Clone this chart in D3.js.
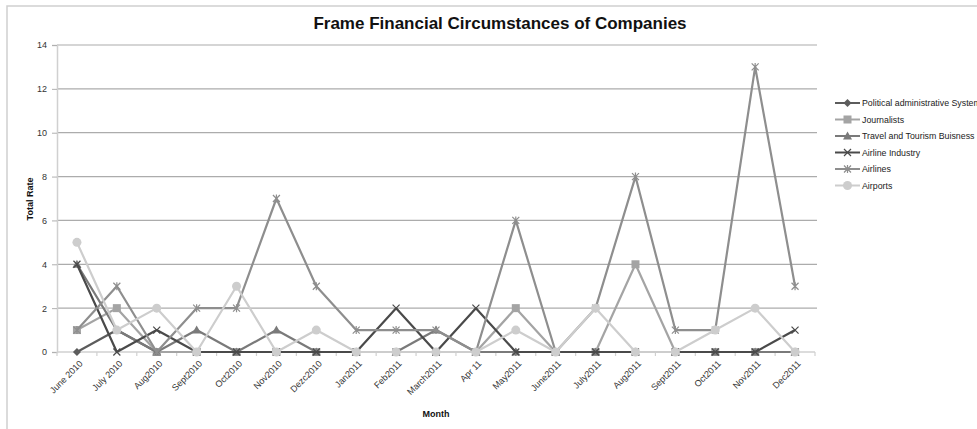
<!DOCTYPE html>
<html>
<head>
<meta charset="utf-8">
<script src="https://cdn.jsdelivr.net/npm/d3@7/dist/d3.min.js"></script>
<style>
  html, body { margin: 0; padding: 0; background: #fff; }
  svg { display: block; font-family: "Liberation Sans", Arial, sans-serif; }
</style>
</head>
<body>
<svg id="chart" width="977" height="429"></svg>
<script>
// Months on the category axis
const months = ["June 2010", "July 2010", "Aug2010", "Sept2010", "Oct2010", "Nov2010",
  "Dezc2010", "Jan2011", "Feb2011", "March2011", "Apr 11", "May2011", "June2011",
  "July2011", "Aug2011", "Sept2011", "Oct2011", "Nov2011", "Dec2011"];

// Series values per month
const political       = [0, 1, 0, 0, 0, 0, 0, 0, 0, 0, 0, 0, 0, 0, 0, 0, 0, 0, 0];
const journalists     = [1, 2, 0, 0, 0, 0, 0, 0, 0, 0, 0, 2, 0, 0, 4, 0, 0, 0, 0];
const travelTourism   = [4, 1, 0, 1, 0, 1, 0, 0, 0, 1, 0, 0, 0, 0, 0, 0, 0, 0, 0];
const airlineIndustry = [4, 0, 1, 0, 0, 0, 0, 0, 2, 0, 2, 0, 0, 0, 0, 0, 0, 0, 1];
const airlines        = [1, 3, 0, 2, 2, 7, 3, 1, 1, 1, 0, 6, 0, 2, 8, 1, 1, 13, 3];
const airports        = [5, 1, 2, 0, 3, 0, 1, 0, 0, 0, 0, 1, 0, 2, 0, 0, 1, 2, 0];

const yTicks = [0, 2, 4, 6, 8, 10, 12, 14];

const series = [
  { name: "Political administrative System", values: political,       color: "#5c5c5c", marker: "diamond" },
  { name: "Journalists",                     values: journalists,     color: "#a4a4a4", marker: "square" },
  { name: "Travel and Tourism Buisness",     values: travelTourism,   color: "#7a7a7a", marker: "triangle" },
  { name: "Airline Industry",                values: airlineIndustry, color: "#4a4a4a", marker: "cross" },
  { name: "Airlines",                        values: airlines,        color: "#8e8e8e", marker: "star" },
  { name: "Airports",                        values: airports,        color: "#cdcdcd", marker: "circle" }
];

const svg = d3.select("#chart");
const plot = { left: 57, right: 815, top: 45, bottom: 352 };

// Outer chart frame
svg.append("rect")
  .attr("x", 7).attr("y", 6).attr("width", 1100).attr("height", 600)
  .attr("fill", "none").attr("stroke", "#cfcfcf").attr("stroke-width", 1.5);

const x = d3.scaleBand().domain(months).range([plot.left, plot.right]).padding(0);
const y = d3.scaleLinear().domain([0, 14]).range([plot.bottom, plot.top]);
const cx = m => x(m) + x.bandwidth() / 2;

// Horizontal gridlines
svg.append("g").selectAll("line").data(yTicks.filter(d => d > 0)).join("line")
  .attr("x1", plot.left).attr("x2", plot.right + 2)
  .attr("y1", d => y(d)).attr("y2", d => y(d))
  .attr("stroke", "#acacac").attr("stroke-width", 1.2);

// Y axis
const yAxis = svg.append("g").attr("transform", `translate(${plot.left},0)`)
  .call(d3.axisLeft(y).tickValues(yTicks).tickSize(5).tickPadding(5).tickFormat(d3.format("d")));
yAxis.select(".domain").attr("stroke", "#d0d0d0").attr("stroke-width", 1.5);
yAxis.selectAll(".tick line").attr("stroke", "#b0b0b0");
yAxis.selectAll("text").attr("font-size", 9).attr("fill", "#333")
  .attr("font-family", "'Liberation Sans', Arial, sans-serif");

// X axis: ticks sit on band boundaries, labels at band centres
const xg = svg.append("g").attr("transform", `translate(0,${plot.bottom})`);
xg.append("line").attr("x1", plot.left).attr("x2", plot.right)
  .attr("stroke", "#d0d0d0").attr("stroke-width", 1.5);
const bounds = months.map(m => x(m)).concat([plot.right]);
xg.selectAll("line.tk").data(bounds).join("line").attr("class", "tk")
  .attr("x1", d => d).attr("x2", d => d).attr("y1", 0).attr("y2", 4)
  .attr("stroke", "#d0d0d0").attr("stroke-width", 1.2);
xg.selectAll("text").data(months).join("text")
  .attr("transform", d => `translate(${cx(d) + 4},${10}) rotate(-45)`)
  .attr("text-anchor", "end").attr("dy", "0.35em")
  .attr("font-size", 9).attr("fill", "#333")
  .text(d => d);

// Markers
function drawMarker(g, type, color, px, py) {
  if (type === "diamond") {
    g.append("path").attr("d", `M${px},${py - 4}L${px + 4},${py}L${px},${py + 4}L${px - 4},${py}Z`).attr("fill", color);
  } else if (type === "square") {
    g.append("rect").attr("x", px - 4).attr("y", py - 4).attr("width", 8).attr("height", 8).attr("fill", color);
  } else if (type === "triangle") {
    g.append("path").attr("d", `M${px},${py - 4.5}L${px + 4.5},${py + 3.5}L${px - 4.5},${py + 3.5}Z`).attr("fill", color);
  } else if (type === "cross") {
    g.append("path").attr("d", `M${px - 3.5},${py - 3.5}L${px + 3.5},${py + 3.5}M${px - 3.5},${py + 3.5}L${px + 3.5},${py - 3.5}`)
      .attr("stroke", color).attr("stroke-width", 1.2).attr("fill", "none");
  } else if (type === "star") {
    g.append("path").attr("d", `M${px - 3.5},${py - 3.5}L${px + 3.5},${py + 3.5}M${px - 3.5},${py + 3.5}L${px + 3.5},${py - 3.5}M${px},${py - 4}L${px},${py + 4}`)
      .attr("stroke", color).attr("stroke-width", 1.2).attr("fill", "none");
  } else if (type === "circle") {
    g.append("circle").attr("cx", px).attr("cy", py).attr("r", 4.5).attr("fill", color);
  }
}

const line = d3.line().x((d, i) => cx(months[i])).y(d => y(d));
series.forEach(s => {
  const g = svg.append("g");
  g.append("path").datum(s.values).attr("d", line)
    .attr("fill", "none").attr("stroke", s.color).attr("stroke-width", 2.2)
    .attr("stroke-linejoin", "round");
  s.values.forEach((v, i) => drawMarker(g, s.marker, s.color, cx(months[i]), y(v)));
});

// Legend
const legend = svg.append("g");
series.forEach((s, i) => {
  const ly = 103 + i * 16.5;
  const g = legend.append("g");
  g.append("line").attr("x1", 835).attr("x2", 860).attr("y1", ly).attr("y2", ly)
    .attr("stroke", s.color).attr("stroke-width", 2);
  drawMarker(g, s.marker, s.color, 847.5, ly);
  g.append("text").attr("x", 862).attr("y", ly).attr("dy", "0.35em")
    .attr("font-size", 8.8).attr("fill", "#222").text(s.name);
});

// Titles
svg.append("text").attr("x", 500).attr("y", 29).attr("text-anchor", "middle")
  .attr("font-size", 17).attr("font-weight", "bold").attr("fill", "#111")
  .text("Frame Financial Circumstances of Companies");
svg.append("text").attr("transform", "translate(33,199) rotate(-90)").attr("text-anchor", "middle")
  .attr("font-size", 9).attr("font-weight", "bold").attr("fill", "#111").text("Total Rate");
svg.append("text").attr("x", 436).attr("y", 417).attr("text-anchor", "middle")
  .attr("font-size", 9).attr("font-weight", "bold").attr("fill", "#111").text("Month");
</script>
</body>
</html>
